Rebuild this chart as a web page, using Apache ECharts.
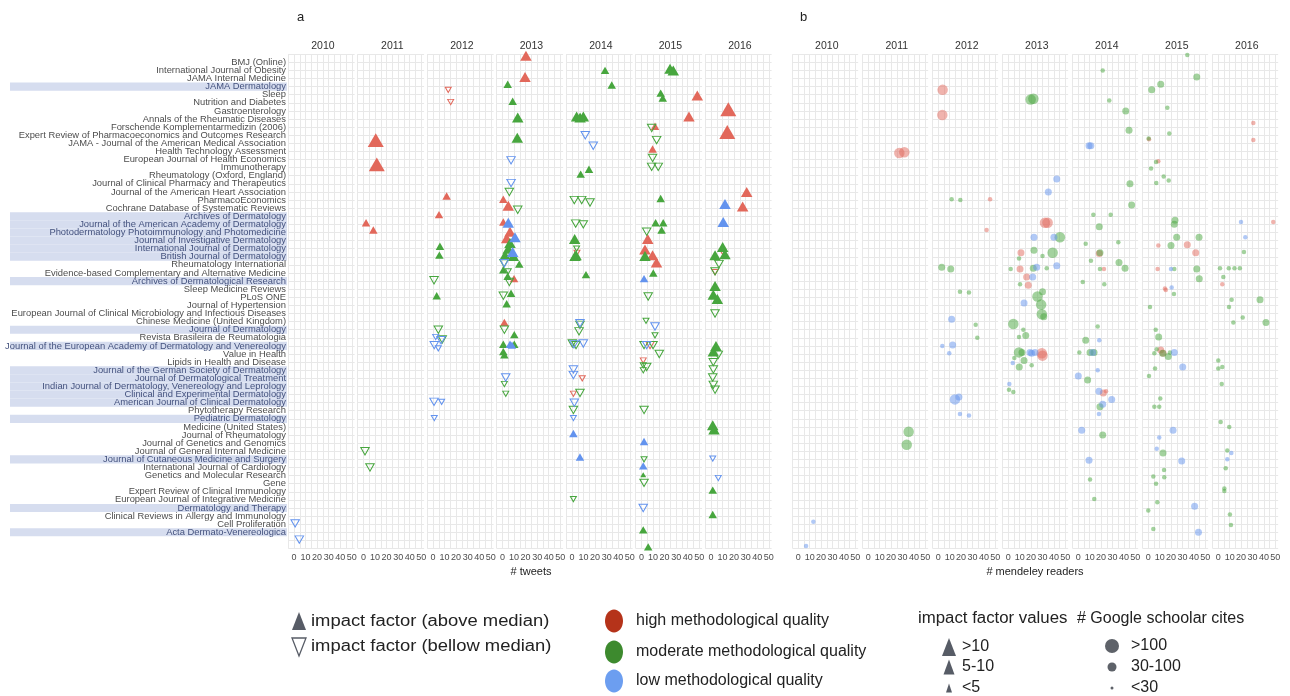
<!DOCTYPE html>
<html>
<head>
<meta charset="utf-8">
<style>
  html, body { margin: 0; padding: 0; background: #fff; }
  #chart { width: 1290px; height: 696px; }
</style>
<script src="https://cdn.jsdelivr.net/npm/echarts@6/dist/echarts.min.js"></script>
</head>
<body>
<div id="chart"></div>
<script>
// journals (row 0 = top)
const journals = [
  'BMJ (Online)', 'International Journal of Obesity', 'JAMA Internal Medicine', 'JAMA Dermatology', 'Sleep',
  'Nutrition and Diabetes', 'Gastroenterology', 'Annals of the Rheumatic Diseases', 'Forschende Komplementarmedizin (2006)',
  'Expert Review of Pharmacoeconomics and Outcomes Research', 'JAMA - Journal of the American Medical Association',
  'Health Technology Assessment', 'European Journal of Health Economics', 'Immunotherapy', 'Rheumatology (Oxford, England)',
  'Journal of Clinical Pharmacy and Therapeutics', 'Journal of the American Heart Association', 'PharmacoEconomics',
  'Cochrane Database of Systematic Reviews', 'Archives of Dermatology', 'Journal of the American Academy of Dermatology',
  'Photodermatology Photoimmunology and Photomedicine', 'Journal of Investigative Dermatology', 'International Journal of Dermatology',
  'British Journal of Dermatology', 'Rheumatology International', 'Evidence-based Complementary and Alternative Medicine',
  'Archives of Dermatological Research', 'Sleep Medicine Reviews', 'PLoS ONE', 'Journal of Hypertension',
  'European Journal of Clinical Microbiology and Infectious Diseases', 'Chinese Medicine (United Kingdom)', 'Journal of Dermatology',
  'Revista Brasileira de Reumatologia', 'Journal of the European Academy of Dermatology and Venereology', 'Value in Health',
  'Lipids in Health and Disease', 'Journal of the German Society of Dermatology', 'Journal of Dermatological Treatment',
  'Indian Journal of Dermatology, Venereology and Leprology', 'Clinical and Experimental Dermatology', 'American Journal of Clinical Dermatology',
  'Phytotherapy Research', 'Pediatric Dermatology', 'Medicine (United States)', 'Journal of Rheumatology', 'Journal of Genetics and Genomics',
  'Journal of General Internal Medicine', 'Journal of Cutaneous Medicine and Surgery', 'International Journal of Cardiology',
  'Genetics and Molecular Research', 'Gene', 'Expert Review of Clinical Immunology', 'European Journal of Integrative Medicine',
  'Dermatology and Therapy', 'Clinical Reviews in Allergy and Immunology', 'Cell Proliferation', 'Acta Dermato-Venereologica'
];
// dermatology journals (highlighted rows)
const dermatologyRows = [3, 19, 20, 21, 22, 23, 24, 27, 33, 35, 38, 39, 40, 41, 42, 44, 49, 55, 58];
const years = ['2010', '2011', '2012', '2013', '2014', '2015', '2016'];
const xTicks = [0, 10, 20, 30, 40, 50];

// panel a: [tweets, row (jittered), quality H/M/L, above median 1/0, impact factor class 1..4]
const tweets2010 = [[1, 56.9, 'L', 0, 2], [4.6, 58.9, 'L', 0, 2]];
const tweets2011 = [
  [10.6, 9.6, 'H', 1, 4], [11.5, 12.6, 'H', 1, 4], [2.2, 19.8, 'H', 1, 2], [8.5, 20.7, 'H', 1, 2],
  [1.3, 48.0, 'M', 0, 2], [5.6, 50.0, 'M', 0, 2]
];
const tweets2012 = [
  [13.2, 3.4, 'H', 0, 1], [15.3, 4.9, 'H', 0, 1], [11.8, 16.5, 'H', 1, 2], [5.2, 18.8, 'H', 1, 2],
  [6, 22.7, 'M', 1, 2], [5.5, 23.8, 'M', 1, 2], [0.9, 26.9, 'M', 0, 2], [3.2, 28.8, 'M', 1, 2],
  [4.6, 33.0, 'M', 0, 2], [2.3, 33.9, 'L', 0, 1], [8, 34.2, 'M', 0, 2], [7, 34.3, 'L', 0, 2],
  [1.1, 34.9, 'L', 0, 2], [4.6, 35.3, 'L', 0, 1], [0.9, 41.9, 'L', 0, 2], [7.5, 41.9, 'L', 0, 1],
  [1.1, 43.9, 'L', 0, 1]
];
const tweets2013 = [
  [20.3, -0.8, 'H', 1, 3], [19.5, 1.8, 'H', 1, 3], [4.5, 2.7, 'M', 1, 2], [8.8, 4.8, 'M', 1, 2],
  [13.2, 6.8, 'M', 1, 3], [12.8, 9.3, 'M', 1, 3], [7.4, 12.1, 'L', 0, 2], [7.4, 14.9, 'L', 0, 2],
  [5.9, 16.0, 'M', 0, 2], [0.7, 16.9, 'H', 1, 2], [5, 17.7, 'H', 1, 3], [13.2, 18.2, 'M', 0, 2],
  [0.7, 19.7, 'H', 1, 2], [5, 19.8, 'L', 1, 3], [6.5, 20.9, 'H', 1, 3], [10.8, 21.6, 'L', 1, 3],
  [3.6, 21.7, 'H', 1, 3], [6.5, 22.3, 'M', 1, 3], [5, 23.0, 'M', 1, 3], [8.8, 23.4, 'L', 1, 3],
  [2.2, 23.8, 'M', 1, 3], [9.4, 23.9, 'M', 1, 3], [1.3, 24.8, 'M', 0, 2], [1.6, 24.8, 'L', 0, 2],
  [14.5, 24.9, 'M', 1, 2], [5, 25.8, 'M', 0, 1], [0.7, 25.6, 'M', 1, 2], [4.5, 26.4, 'M', 1, 2],
  [10, 26.7, 'H', 1, 2], [5.9, 27.1, 'M', 0, 2], [0.7, 28.8, 'M', 0, 2], [7.4, 28.5, 'M', 1, 2],
  [3.6, 29.8, 'M', 1, 2], [1.6, 32.1, 'H', 1, 2], [1.6, 33.0, 'M', 0, 2], [10.2, 33.6, 'M', 1, 2],
  [0.7, 34.8, 'M', 1, 2], [6.5, 34.8, 'L', 1, 2], [8.2, 34.9, 'L', 1, 2], [10.2, 34.8, 'M', 1, 2],
  [0.7, 35.7, 'M', 1, 2], [1.6, 36.1, 'M', 1, 2], [2.8, 38.9, 'L', 0, 2], [1.6, 39.7, 'M', 0, 1],
  [2.8, 40.9, 'M', 0, 1]
];
const tweets2014 = [
  [28.6, 1.0, 'M', 1, 2], [34.4, 2.8, 'M', 1, 2], [4, 6.7, 'M', 1, 3], [9.8, 6.7, 'M', 1, 3],
  [7, 6.8, 'M', 1, 3], [11.5, 9.0, 'L', 0, 2], [18.4, 10.3, 'L', 0, 2], [7.5, 13.8, 'M', 1, 2],
  [14.7, 13.2, 'M', 1, 2], [2, 17.0, 'M', 0, 2], [8.4, 17.0, 'M', 0, 2], [15.6, 17.3, 'M', 0, 2],
  [3.2, 19.9, 'M', 0, 2], [9.8, 20.0, 'M', 0, 2], [2.3, 21.8, 'M', 1, 3], [4, 23.0, 'M', 0, 1],
  [4.3, 23.5, 'H', 0, 1], [3.5, 23.8, 'M', 1, 3], [2.6, 23.9, 'M', 1, 3], [12.1, 26.2, 'M', 1, 2],
  [6.9, 32.2, 'L', 0, 2], [6.9, 32.4, 'M', 0, 2], [6.1, 33.2, 'M', 0, 2], [0.3, 34.7, 'M', 0, 2],
  [1.7, 34.8, 'L', 0, 2], [3.5, 34.9, 'M', 0, 2], [9.8, 34.7, 'L', 0, 2], [1.2, 37.9, 'L', 0, 2],
  [1.2, 38.6, 'L', 0, 2], [8.9, 39.0, 'H', 0, 1], [1.2, 40.9, 'H', 0, 1], [6.9, 40.8, 'M', 0, 2],
  [2, 42.0, 'L', 0, 2], [1.2, 42.9, 'M', 0, 2], [1.2, 43.9, 'L', 0, 1], [1.2, 45.8, 'L', 1, 2],
  [6.9, 48.7, 'L', 1, 2], [1.2, 53.9, 'M', 0, 1]
];
const tweets2015 = [
  [24.7, 0.8, 'M', 1, 3], [27.5, 1.0, 'M', 1, 3], [16.6, 3.8, 'M', 1, 2], [18.4, 4.4, 'M', 1, 2],
  [48.3, 4.1, 'H', 1, 3], [41.1, 6.7, 'H', 1, 3], [8.8, 8.1, 'M', 0, 2], [11.7, 7.9, 'H', 1, 2],
  [13.1, 9.6, 'M', 0, 2], [9.6, 10.7, 'H', 1, 2], [9.6, 11.8, 'M', 0, 2], [8.8, 12.9, 'M', 0, 2],
  [14.5, 12.9, 'M', 0, 2], [16.6, 16.8, 'M', 1, 2], [12.2, 19.8, 'M', 1, 2], [18.8, 19.8, 'M', 1, 2],
  [17.4, 20.7, 'M', 1, 2], [4.5, 20.9, 'M', 0, 2], [5.4, 21.8, 'H', 1, 3], [3, 23.1, 'H', 1, 3],
  [9.6, 23.8, 'H', 1, 3], [3, 23.9, 'M', 1, 3], [13, 24.7, 'H', 1, 3], [2.2, 26.7, 'L', 1, 2],
  [10.2, 26.0, 'M', 1, 2], [5.8, 28.9, 'M', 0, 2], [3.9, 31.9, 'M', 0, 1], [11.7, 32.6, 'L', 0, 2],
  [11.7, 33.7, 'M', 0, 1], [2.2, 34.9, 'M', 0, 2], [4.5, 34.9, 'L', 0, 2], [7.4, 34.9, 'H', 0, 2],
  [10, 34.9, 'M', 0, 2], [15.4, 36.0, 'M', 0, 2], [1.5, 36.8, 'H', 0, 1], [1.5, 37.4, 'M', 0, 1],
  [4.5, 37.6, 'M', 0, 2], [1.5, 38.0, 'M', 0, 1], [2.2, 42.9, 'M', 0, 2], [2.2, 46.8, 'L', 1, 2],
  [2.2, 49.0, 'M', 0, 1], [1.5, 49.8, 'L', 1, 2], [1.5, 50.9, 'M', 1, 1], [2.2, 51.9, 'M', 0, 2],
  [1.5, 55.0, 'L', 0, 2], [1.5, 57.7, 'M', 1, 2], [5.8, 59.8, 'M', 1, 2]
];
const tweets2016 = [
  [15, 5.8, 'H', 1, 4], [14.1, 8.6, 'H', 1, 4], [30.9, 16.0, 'H', 1, 3], [27.4, 17.8, 'H', 1, 3],
  [12.1, 17.5, 'L', 1, 3], [10.6, 19.7, 'L', 1, 3], [10.1, 22.8, 'M', 1, 3], [3.5, 23.8, 'M', 1, 3],
  [12.1, 23.7, 'M', 1, 3], [10, 23.4, 'H', 0, 1], [6.9, 24.9, 'M', 0, 2], [3.5, 25.8, 'M', 0, 2],
  [3.5, 25.9, 'H', 0, 1], [3.5, 27.6, 'M', 1, 3], [2, 28.7, 'M', 1, 3], [5.5, 29.2, 'M', 1, 3],
  [3.5, 31.0, 'M', 0, 2], [4.3, 35.0, 'M', 1, 3], [2, 35.7, 'M', 1, 3], [6.3, 36.1, 'M', 0, 2],
  [2, 37.0, 'M', 0, 2], [2, 37.9, 'M', 0, 2], [1.5, 38.9, 'M', 0, 2], [2, 39.8, 'M', 0, 2],
  [3.5, 40.4, 'M', 0, 2], [1.5, 44.8, 'M', 1, 3], [2.6, 45.3, 'M', 1, 3], [1.5, 48.9, 'L', 0, 1],
  [6.3, 51.3, 'L', 0, 1], [1.5, 52.8, 'M', 1, 2], [1.5, 55.8, 'M', 1, 2]
];

// panel b: [mendeley readers, row (jittered), quality H/M/L, google scholar cites class 1..3]
const readers2010 = [[13.2, 56.7, 'L', 1], [6.8, 59.7, 'L', 1]];
const readers2011 = [[27.2, 11.2, 'H', 3], [31.6, 11.1, 'H', 3], [35.4, 45.6, 'M', 3], [33.7, 47.2, 'M', 3]];
const readers2012 = [
  [3.8, 3.4, 'H', 3], [3.5, 6.5, 'H', 3], [11.7, 16.9, 'M', 1], [19.3, 17.0, 'M', 1], [45.4, 16.9, 'H', 1],
  [42.4, 20.7, 'H', 1], [3, 25.3, 'M', 2], [10.9, 25.5, 'M', 2], [19, 28.3, 'M', 1], [26.9, 28.4, 'M', 1],
  [11.7, 31.7, 'L', 2], [32.8, 32.4, 'M', 1], [34.2, 34.0, 'M', 1], [3.5, 35.0, 'L', 1], [12.6, 34.9, 'L', 2],
  [9.6, 35.9, 'L', 1], [14.6, 41.6, 'L', 3], [18.1, 41.3, 'L', 2], [19, 43.4, 'L', 1], [26.9, 43.6, 'L', 1]
];
const readers2013 = [
  [19.6, 4.6, 'M', 3], [22, 4.5, 'M', 3], [42.5, 14.4, 'L', 2], [35.1, 16.0, 'L', 2], [32.2, 19.8, 'H', 3],
  [34.5, 19.8, 'H', 3], [22.5, 21.6, 'L', 2], [40, 21.6, 'L', 2], [45.3, 21.6, 'M', 3], [22.5, 23.2, 'M', 2],
  [38.9, 23.5, 'M', 3], [30, 23.9, 'M', 1], [11.1, 23.5, 'H', 2], [9.4, 24.2, 'M', 1], [2.1, 25.5, 'M', 1],
  [10.3, 25.5, 'H', 2], [21.9, 25.4, 'M', 2], [24.9, 25.3, 'L', 2], [33.7, 25.4, 'M', 1], [42.5, 25.1, 'L', 2],
  [21.4, 26.5, 'L', 2], [16.1, 26.5, 'H', 2], [10.3, 27.4, 'M', 1], [17.5, 27.5, 'H', 2], [30, 28.3, 'M', 2],
  [25.6, 28.9, 'M', 3], [28.8, 29.9, 'M', 3], [29.4, 31.1, 'M', 3], [31.1, 31.4, 'M', 2], [13.8, 29.7, 'L', 2],
  [4.4, 32.3, 'M', 3], [13.2, 33.0, 'M', 1], [9.4, 33.9, 'M', 1], [15.3, 33.7, 'M', 2], [9.4, 35.8, 'M', 3],
  [12, 35.8, 'M', 2], [19, 35.8, 'L', 2], [23.4, 35.8, 'L', 2], [20.5, 35.9, 'L', 2], [29.4, 35.9, 'H', 3],
  [30, 36.2, 'H', 3], [5.3, 36.5, 'M', 1], [13.8, 36.8, 'M', 2], [3.9, 37.1, 'L', 1], [9.6, 37.6, 'M', 2],
  [20.5, 37.4, 'M', 1], [0.9, 39.7, 'L', 1], [0.6, 40.4, 'M', 1], [4.4, 40.7, 'M', 1]
];
const readers2014 = [
  [21.4, 1.0, 'M', 1], [27.2, 4.7, 'M', 1], [41.6, 6.0, 'M', 2], [44.5, 8.4, 'M', 2], [9.4, 10.3, 'L', 2],
  [11, 10.3, 'L', 2], [45.3, 15.0, 'M', 2], [46.8, 17.6, 'M', 2], [13.2, 18.8, 'M', 1], [28.4, 18.8, 'M', 1],
  [18.4, 20.3, 'M', 2], [6.5, 22.4, 'M', 1], [35.1, 22.2, 'M', 1], [19, 23.5, 'M', 2], [18.4, 23.6, 'H', 2],
  [11.1, 24.5, 'M', 1], [35.7, 24.7, 'M', 2], [41, 25.4, 'M', 2], [19, 25.5, 'M', 1], [22.5, 25.5, 'H', 1],
  [3.9, 27.1, 'M', 1], [22.8, 27.4, 'M', 1], [17, 32.6, 'M', 1], [6.5, 34.3, 'M', 2], [18.4, 34.3, 'L', 1],
  [0.9, 35.8, 'M', 1], [10.3, 35.8, 'M', 2], [12.6, 35.8, 'L', 2], [13.8, 35.8, 'M', 2], [17, 38.0, 'L', 1],
  [0, 38.7, 'L', 2], [8.2, 39.2, 'M', 2], [18.1, 40.6, 'L', 2], [21.9, 40.8, 'H', 2], [24.3, 40.6, 'H', 1],
  [29.3, 41.6, 'L', 2], [21.4, 42.2, 'L', 2], [19, 42.5, 'M', 2], [18.1, 43.4, 'L', 1], [3, 45.4, 'L', 2],
  [21.4, 46.0, 'M', 2], [9.4, 49.1, 'L', 2], [10.3, 51.5, 'M', 1], [14, 53.9, 'M', 1]
];
const readers2015 = [
  [34.2, -0.9, 'M', 1], [42.5, 1.8, 'M', 2], [10.9, 2.7, 'M', 2], [3, 3.4, 'M', 2], [16.7, 5.6, 'M', 1],
  [18.4, 8.8, 'M', 1], [0.6, 9.5, 'H', 1], [0.3, 9.4, 'M', 1], [6.8, 12.3, 'M', 1], [8.8, 12.2, 'H', 1],
  [2.4, 13.1, 'M', 1], [13.5, 14.1, 'M', 1], [17.9, 14.6, 'M', 1], [7, 14.9, 'M', 1], [23.4, 19.5, 'M', 2],
  [22.8, 20.0, 'M', 2], [24.9, 21.6, 'M', 2], [44.5, 21.6, 'M', 2], [8.8, 22.6, 'H', 1], [19.9, 22.6, 'M', 2],
  [34.2, 22.5, 'H', 2], [41.6, 23.5, 'H', 2], [8.2, 25.5, 'H', 1], [19.9, 25.5, 'L', 1], [22.8, 25.5, 'M', 1],
  [42.5, 25.5, 'M', 2], [44.7, 26.7, 'M', 2], [14.6, 27.9, 'H', 1], [20.5, 27.8, 'L', 1], [15.3, 28.1, 'H', 1],
  [22.5, 28.6, 'M', 1], [1.5, 30.2, 'M', 1], [6.5, 33.0, 'M', 1], [9.1, 33.9, 'M', 2], [7.4, 35.4, 'M', 1],
  [10.9, 35.5, 'H', 2], [13, 35.9, 'H', 2], [5.3, 35.9, 'M', 1], [12.6, 35.9, 'M', 2], [17.5, 36.3, 'M', 2],
  [19, 35.8, 'M', 1], [22.8, 35.8, 'L', 2], [30.2, 37.6, 'L', 2], [5.9, 37.8, 'M', 1], [0.6, 38.7, 'M', 1],
  [10.5, 41.5, 'M', 1], [5.3, 42.5, 'M', 1], [9.6, 42.5, 'M', 1], [21.7, 45.4, 'L', 2], [9.6, 46.3, 'L', 1],
  [7.4, 47.7, 'L', 1], [12.9, 48.2, 'M', 2], [29.3, 49.2, 'L', 2], [13.8, 50.3, 'M', 1], [4.4, 51.1, 'M', 1],
  [14, 51.2, 'M', 1], [6.8, 52.0, 'M', 1], [7.9, 54.3, 'M', 1], [0, 55.3, 'M', 1], [40.6, 54.8, 'L', 2],
  [4.4, 57.6, 'M', 1], [44, 58.0, 'L', 2]
];
const readers2016 = [
  [30.7, 7.5, 'H', 1], [30.7, 9.6, 'H', 1], [19.9, 19.7, 'L', 1], [48.2, 19.7, 'H', 1], [23.7, 21.6, 'L', 1],
  [22.5, 23.4, 'M', 1], [1.5, 25.4, 'M', 1], [9.2, 25.4, 'M', 1], [14.2, 25.4, 'M', 1], [18.9, 25.4, 'M', 1],
  [4.4, 26.5, 'M', 1], [3.5, 27.4, 'H', 1], [11.7, 29.3, 'M', 1], [36.6, 29.3, 'M', 2], [9.4, 30.2, 'M', 1],
  [21.4, 31.5, 'M', 1], [13.2, 32.1, 'M', 1], [41.8, 32.1, 'M', 2], [0, 36.8, 'M', 1], [0, 37.8, 'M', 1],
  [3.5, 37.6, 'M', 1], [3, 39.7, 'M', 1], [2.1, 44.4, 'M', 1], [9.6, 45.0, 'M', 1], [7.9, 47.9, 'M', 1],
  [11.4, 48.2, 'L', 1], [7.9, 49.0, 'L', 1], [6.5, 50.1, 'M', 1], [5.3, 52.6, 'M', 1], [5.3, 52.9, 'M', 1],
  [10.2, 55.8, 'M', 1], [11.1, 57.1, 'M', 1]
];

const tweetsByYear = [tweets2010, tweets2011, tweets2012, tweets2013, tweets2014, tweets2015, tweets2016];
const readersByYear = [readers2010, readers2011, readers2012, readers2013, readers2014, readers2015, readers2016];

// legend texts
const shapeLabels = ['impact factor (above median)', 'impact factor (bellow median)'];
const qualityLabels = ['high methodological quality', 'moderate methodological quality', 'low methodological quality'];
const ifLabels = ['>10', '5-10', '<5'];
const citeLabels = ['>100', '30-100', '<30'];

// ---------------- styling / layout ----------------
const FONT = '"Liberation Sans", Arial, sans-serif';
const COLORS = { H: '#e2685b', M: '#47a63e', L: '#6393ee' };
const FILL_B = { H: 'rgba(226,104,91,0.5)', M: 'rgba(71,166,62,0.5)', L: 'rgba(99,147,238,0.5)' };
const TRI = { 1: 6, 2: 8.5, 3: 11.5, 4: 16 };
const DOT = { 1: 4.5, 2: 7, 3: 10.5 };
const TOP = 54.2, H = 494.3;
const XMIN = -5, XMAX = 52.5;
const GRIDCOL = '#e8e8e8';

const grids = [], xAxes = [], yAxes = [], series = [], graphic = [];

// label column with highlight bands
const labelRows = [''].concat(journals, ['', '']);
const dermNames = new Set(dermatologyRows.map(i => journals[i]));
grids.push({ left: 10, top: TOP, width: 277, height: H });
xAxes.push({ gridIndex: 0, type: 'value', min: 0, max: 1, show: false });
yAxes.push({
  gridIndex: 0, type: 'category', data: labelRows, boundaryGap: false, inverse: true, position: 'right', z: 5,
  axisLine: { show: false }, axisTick: { show: false }, splitLine: { show: false },
  axisLabel: {
    inside: true, interval: 0, margin: 1, fontSize: 9.4, color: '#4d4d4d', fontFamily: FONT,
    formatter: v => dermNames.has(v) ? '{d|' + v + '}' : v,
    rich: { d: { color: '#44527e', fontSize: 9.4, fontFamily: FONT } }
  }
});
series.push({
  type: 'bar', xAxisIndex: 0, yAxisIndex: 0, silent: true, z: 1, barCategoryGap: '0%',
  itemStyle: { color: '#d6ddef' },
  data: labelRows.map(n => dermNames.has(n) ? 1 : '-')
});

function addFacet(left, scale, k) {
  const g = grids.length;
  grids.push({ left: left + XMIN * scale, top: TOP, width: (XMAX - XMIN) * scale, height: H });
  xAxes.push({
    gridIndex: g, type: 'value', min: XMIN, max: XMAX, interval: 5,
    axisLine: { show: false }, axisTick: { show: false },
    axisLabel: {
      fontSize: 9, color: '#4d4d4d', fontFamily: FONT, margin: 5,
      formatter: v => xTicks.indexOf(v) >= 0 ? String(v) : ''
    },
    splitLine: { show: true, showMaxLine: false, lineStyle: { color: GRIDCOL, width: 1 } }
  });
  yAxes.push({
    gridIndex: g, type: 'value', min: -1, max: 60, interval: 1, inverse: true,
    axisLine: { show: false }, axisTick: { show: false }, axisLabel: { show: false },
    splitLine: { show: true, lineStyle: { color: GRIDCOL, width: 1 } }
  });
  graphic.push({
    type: 'text', x: left + 25 * scale, y: 46, silent: true,
    style: { text: years[k], fill: '#333', font: '10.5px ' + FONT, textAlign: 'center', textVerticalAlign: 'middle', align: 'center', verticalAlign: 'middle' }
  });
  return g;
}

// panel a
tweetsByYear.forEach((pts, k) => {
  const g = addFacet(294 + 69.5 * k, 1.155, k);
  ['H', 'M', 'L'].forEach(q => {
    [1, 0].forEach(up => {
      const d = pts.filter(p => p[2] === q && p[3] === up).map(p => [p[0], p[1], p[4]]);
      if (!d.length) return;
      series.push({
        type: 'scatter', xAxisIndex: g, yAxisIndex: g, silent: true, data: d,
        symbol: 'triangle', symbolRotate: up ? 0 : 180,
        symbolSize: v => [TRI[v[2]], TRI[v[2]] * 0.87],
        itemStyle: up
          ? { color: COLORS[q], opacity: 1 }
          : { color: 'rgba(0,0,0,0)', borderColor: COLORS[q], borderWidth: 1, opacity: 1 }
      });
    });
  });
});

// panel b
readersByYear.forEach((pts, k) => {
  const g = addFacet(798.3 + 70 * k, 1.14, k);
  ['H', 'M', 'L'].forEach(q => {
    const d = pts.filter(p => p[2] === q).map(p => [p[0], p[1], p[3]]);
    if (!d.length) return;
    series.push({
      type: 'scatter', xAxisIndex: g, yAxisIndex: g, silent: true, data: d,
      symbol: 'circle', symbolSize: v => DOT[v[2]],
      itemStyle: { color: FILL_B[q], opacity: 1 }
    });
  });
});

function txt(x, y, text, size, color, align, sx) {
  graphic.push({
    type: 'text', x: x, y: y, scaleX: sx || 1, silent: true,
    style: { text: text, fill: color, font: size + 'px ' + FONT, textAlign: align || 'left', textVerticalAlign: 'middle', align: align || 'left', verticalAlign: 'middle' }
  });
}
txt(297, 17, 'a', 13, '#222');
txt(800, 17, 'b', 13, '#222');
txt(531, 572, '# tweets', 11, '#222', 'center');
txt(1035, 572, '# mendeley readers', 11, '#222', 'center');

// legend
const LEG = '#575c66';
graphic.push({ type: 'polygon', silent: true, shape: { points: [[299, 612], [306, 630], [292, 630]] }, style: { fill: LEG } });
graphic.push({ type: 'polygon', silent: true, shape: { points: [[292, 638], [306, 638], [299, 656]] }, style: { fill: 'none', stroke: LEG, lineWidth: 1.3 } });
txt(311, 622, shapeLabels[0], 16, '#222', 'left', 1.15);
txt(311, 647, shapeLabels[1], 16, '#222', 'left', 1.15);
const legQ = ['#b5331a', '#3d8a2e', '#6c9ef0'];
[621, 652, 681].forEach((y, i) => {
  graphic.push({ type: 'ellipse', silent: true, shape: { cx: 614, cy: y, rx: 9, ry: 11.5 }, style: { fill: legQ[i] } });
  txt(636, y, qualityLabels[i], 16, '#222');
});
txt(918, 619, 'impact factor values', 16, '#222', 'left', 1.05);
txt(1077, 619, '# Google schoolar cites', 16, '#222');
[[647, 7, 9], [667, 5.5, 7.5], [688, 3, 4.5]].forEach((t, i) => {
  const [cy, hw, hh] = t;
  graphic.push({ type: 'polygon', silent: true, shape: { points: [[949, cy - hh], [949 + hw, cy + hh], [949 - hw, cy + hh]] }, style: { fill: LEG } });
  txt(962, cy, ifLabels[i], 16, '#222');
});
[[646, 7], [667, 4.5], [688, 1.5]].forEach((c, i) => {
  graphic.push({ type: 'circle', silent: true, shape: { cx: 1112, cy: c[0], r: c[1] }, style: { fill: '#5e6269' } });
  txt(1131, c[0], citeLabels[i], 16, '#222');
});

const chart = echarts.init(document.getElementById('chart'), null, { renderer: 'canvas' });
chart.setOption({
  animation: false,
  grid: grids, xAxis: xAxes, yAxis: yAxes, series: series, graphic: graphic
});
</script>
</body>
</html>
